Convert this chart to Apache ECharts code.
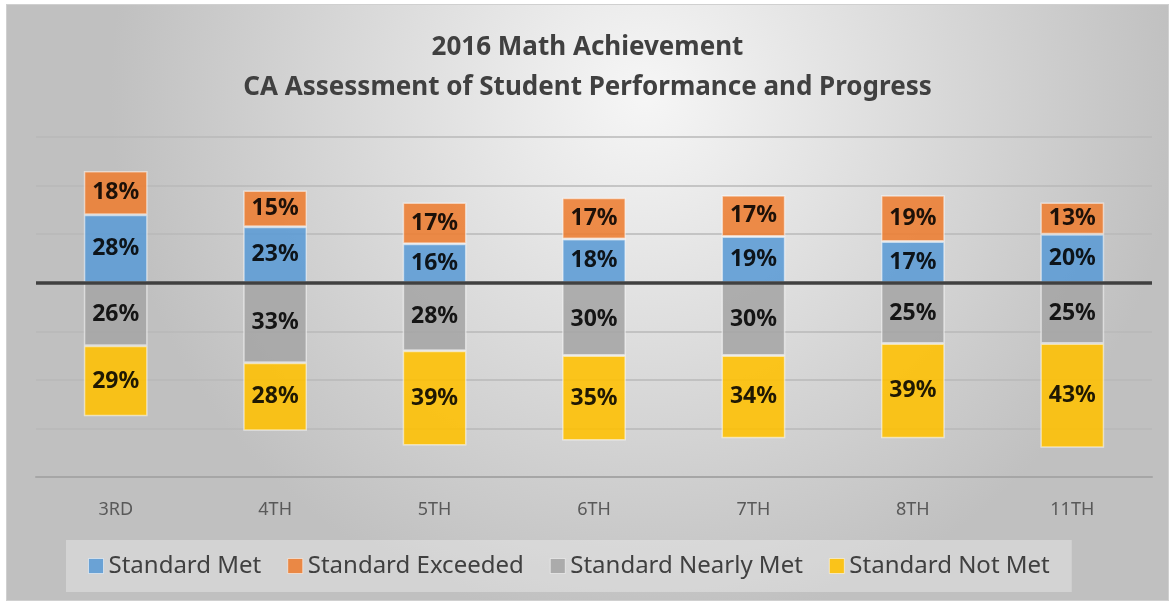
<!DOCTYPE html>
<html>
<head>
<meta charset="utf-8">
<script src="https://cdn.jsdelivr.net/npm/echarts@6/dist/echarts.min.js"></script>
<style>
  body { margin: 0; background: #fff; }
  #chart { position: absolute; left: 7px; top: 5px; width: 1161px; height: 595px; outline: 1px solid #d0d0d0; }
</style>
</head>
<body>
<div id="chart"></div>
<script>
const grades = ['3RD', '4TH', '5TH', '6TH', '7TH', '8TH', '11TH']
const standardMet = [28, 23, 16, 18, 19, 17, 20]
const standardExceeded = [18, 15, 17, 17, 17, 19, 13]
const nearlyMet = [26, 33, 28, 30, 30, 25, 25]
const notMet = [29, 28, 39, 35, 34, 39, 43]

const font = 'Noto Sans'

function barSeries(name, data, color, neg) {
  return {
    name: name,
    type: 'bar',
    stack: 'total',
    barWidth: '40%',
    data: neg ? data.map(v => -v) : data,
    itemStyle: {
      color: color,
      opacity: 0.88,
      borderColor: 'rgba(255,255,255,0.6)',
      borderWidth: 1.5
    },
    label: {
      show: true,
      position: 'inside',
      color: '#000',
      fontFamily: font,
      fontWeight: 'bold',
      fontSize: 23,
      formatter: p => Math.abs(p.value) + '%'
    }
  }
}

const myChart = echarts.init(document.getElementById('chart'))
const series = [
  barSeries('Standard Met', standardMet, '#5B9BD5', false),
  barSeries('Standard Exceeded', standardExceeded, '#ED7D31', false),
  barSeries('Standard Nearly Met', nearlyMet, '#A5A5A5', true),
  barSeries('Standard Not Met', notMet, '#FFC000', true)
]
// thick line at zero
series[0].markLine = {
  silent: true,
  symbol: 'none',
  label: { show: false },
  lineStyle: { color: '#404040', width: 3.5, type: 'solid' },
  data: [{ yAxis: 0 }]
}

let option = {
  backgroundColor: {
    type: 'radial',
    x: 0.55,
    y: 0.15,
    r: 0.9,
    colorStops: [
      { offset: 0, color: '#f6f6f6' },
      { offset: 1, color: '#c0c0c0' }
    ]
  },
  title: {
    text: '2016 Math Achievement\nCA Assessment of Student Performance and Progress',
    left: 'center',
    top: 18,
    textStyle: {
      fontFamily: font,
      fontSize: 26,
      fontWeight: 'bold',
      color: '#404040',
      lineHeight: 40
    }
  },
  legend: {
    top: 535,
    left: 59,
    itemWidth: 15,
    itemHeight: 15,
    itemGap: 26,
    itemStyle: { borderColor: 'rgba(255,255,255,0.6)', borderWidth: 1 },
    padding: [14, 22],
    backgroundColor: 'rgba(255,255,255,0.3)',
    icon: 'rect',
    textStyle: {
      fontFamily: font,
      fontSize: 24,
      color: '#404040'
    }
  },
  grid: {
    left: 29,
    right: 16,
    top: 132,
    bottom: 123
  },
  xAxis: {
    type: 'category',
    data: grades,
    axisLine: { onZero: false, lineStyle: { color: '#a6a6a6', width: 2 } },
    axisTick: { show: false },
    axisLabel: {
      margin: 24,
      fontFamily: font,
      fontSize: 18,
      color: '#595959'
    }
  },
  yAxis: {
    type: 'value',
    min: -80,
    max: 60,
    interval: 20,
    axisLabel: { show: false },
    axisLine: { show: false },
    axisTick: { show: false },
    splitLine: { lineStyle: { color: '#b8b8b8', width: 1.5 } }
  },
  series: series
}
myChart.setOption(option)
</script>
</body>
</html>
